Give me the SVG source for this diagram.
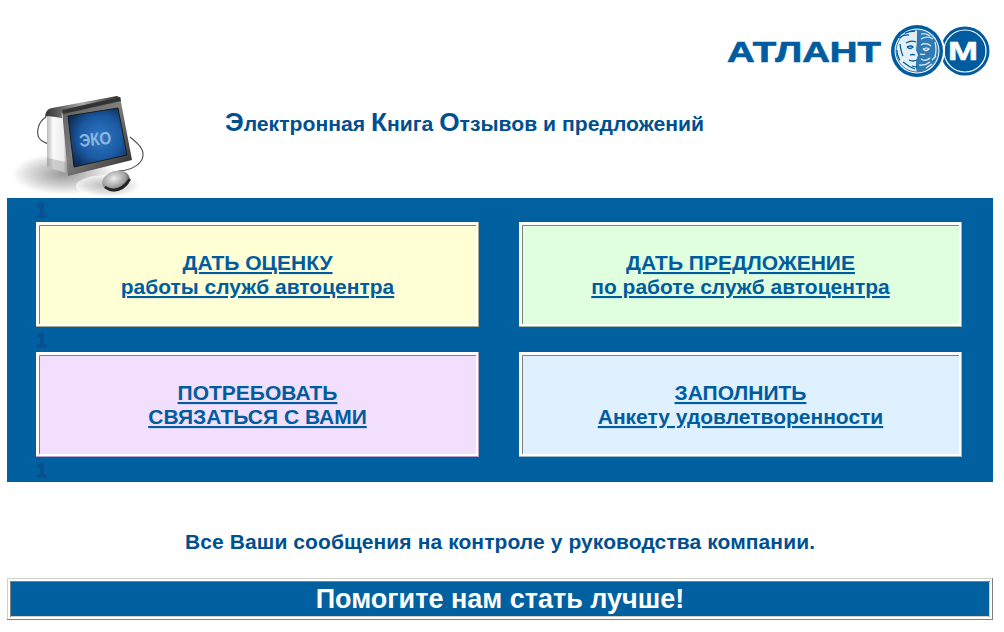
<svg xmlns="http://www.w3.org/2000/svg" width="1004" height="632" viewBox="0 0 1004 632">
<defs>
<radialGradient id="screen" cx=".55" cy=".5" r=".65"><stop offset="0" stop-color="#2f78c4"/><stop offset=".55" stop-color="#1a5aa2"/><stop offset="1" stop-color="#0a2448"/></radialGradient>
<linearGradient id="frame" x1="0" y1="0" x2="1" y2="1"><stop offset="0" stop-color="#5a5a5a"/><stop offset=".45" stop-color="#7f7f7f"/><stop offset=".8" stop-color="#4a4a4a"/><stop offset="1" stop-color="#222"/></linearGradient>
<linearGradient id="pages" x1="0" y1="0" x2="1" y2="0"><stop offset="0" stop-color="#bbb"/><stop offset=".3" stop-color="#fafafa"/><stop offset=".8" stop-color="#ececec"/><stop offset="1" stop-color="#888"/></linearGradient>
<linearGradient id="spine" x1="0" y1="0" x2="1" y2="0"><stop offset="0" stop-color="#333"/><stop offset=".5" stop-color="#aaa"/><stop offset="1" stop-color="#222"/></linearGradient>
<radialGradient id="shadow"><stop offset="0" stop-color="#9a9a9a"/><stop offset=".6" stop-color="#d4d4d4"/><stop offset="1" stop-color="#fff"/></radialGradient>
<radialGradient id="mouse" cx=".45" cy=".35" r=".7"><stop offset="0" stop-color="#eee"/><stop offset=".6" stop-color="#a0a0a0"/><stop offset="1" stop-color="#2a2a2a"/></radialGradient>
</defs>
<style>
text{font-family:"Liberation Sans",Arial,sans-serif;font-weight:bold}
.link{font-size:21px;fill:#005c9e;text-anchor:middle;text-decoration:underline}
.one{font-size:20px;fill:#0a4f90;stroke:#0a4f90;stroke-width:.8}
.inner{fill:none;stroke:#808080;stroke-width:1}
.wire{fill:none;stroke:#555;stroke-width:1.200}
</style>
<rect width="1004" height="632" fill="#fff"/>

<g id="logo">
<text x="727" y="62" font-size="30" fill="#005c9e" stroke="#005c9e" stroke-width=".7" textLength="154" lengthAdjust="spacingAndGlyphs">АТЛАНТ</text>
<circle cx="965" cy="51" r="24.500" fill="#005c9e"/>
<circle cx="965" cy="51" r="21" fill="#005c9e" stroke="#fff" stroke-width="1.200"/>
<text x="963" y="60" font-size="25" fill="#fff" stroke="#fff" stroke-width=".5" text-anchor="middle" textLength="30" lengthAdjust="spacingAndGlyphs">М</text>
<circle cx="917" cy="51" r="28" fill="#fff"/>
<circle cx="917" cy="51" r="26" fill="#005c9e"/>
<circle cx="917" cy="51" r="22.500" fill="#fff"/>
<circle cx="917" cy="51" r="21" fill="#e4eef6" stroke="#005c9e" stroke-width=".8"/>
<path d="M917 30a21 21 0 0 1 0 42c-2-6-1-12 1-17l-2-5c1-7 1-14 1-20z" fill="#2f7cb4"/>
<path d="M899 38q5-4 10-3M906 43q5-3 10-1M907 47q4-2 6 0q-3 3-6 0M900 44q1 8 3 12M903 62q6 5 12 7M909 60q4 2 8 0M910 55q3-1 5 0M897 50q0 6 3 10M905 33q5-2 10-2M912 66q3 1 5 1" fill="none" stroke="#005c9e" stroke-width="1.300"/>
<path d="M921 39q7-4 12 0M921 45q5-3 10 1M923 49q4-2 6 0q-3 3-6 0M935 42q2 8 0 14M921 59q5 3 9-1M920 54q3 1 5 0M921 34q5-1 9 2M919 65q6 1 11-3M932 60l4-4M926 68l6-4" fill="none" stroke="#eaf2f8" stroke-width="1.200"/>
</g>

<g id="book-icon">
<ellipse cx="64" cy="174" rx="52" ry="21" fill="url(#shadow)"/>
<ellipse cx="108" cy="186" rx="32" ry="11" fill="url(#shadow)" opacity=".7"/>
<path class="wire" d="M46 117C38 122 36 132 39 138C42 143 46 142 48 144"/>
<path class="wire" d="M130 137C136 142 144 148 143 156C142 164 132 169 126 170C121 171 118 171 116 172"/>
<path d="M47 116L62 112L68 173L47 167Z" fill="url(#pages)"/>
<path d="M47 158L66 162L68 173L47 167Z" fill="#8d8d8d" opacity=".4"/>
<path d="M45 118Q45 109 52 108L117 96L121 98L63 111Q61 112 62 118L48 116Q46 116 45 118Z" fill="url(#spine)"/>
<path d="M62 110L120 97L132 160L68 176Z" fill="url(#frame)"/>
<path d="M62 110L120 97L121 101L63 114Z" fill="#333"/>
<path d="M68 116L118 108L127 155L74 167Z" fill="url(#screen)" stroke="#1c1c1c" stroke-width="1"/>
<text x="80" y="147" font-size="18" fill="#8fb6de" textLength="32" lengthAdjust="spacingAndGlyphs" transform="rotate(-6 80 147)">ЭКО</text>
<ellipse cx="116" cy="181" rx="14" ry="10" fill="url(#mouse)" transform="rotate(-15 116 181)"/>
<path d="M105 187Q118 196 130 179" fill="none" stroke="#222" stroke-width="2.500"/>
</g>

<text id="title" x="225" y="131" font-size="21" fill="#004f8f" textLength="479" lengthAdjust="spacingAndGlyphs"><tspan font-size="26">Э</tspan>лектронная <tspan font-size="26">К</tspan>нига <tspan font-size="26">О</tspan>тзывов и предложений</text>

<g id="panel">
<rect x="7" y="198" width="986" height="284" fill="#0060a0"/>
<text class="one" x="36" y="217">1</text>
<text class="one" x="36" y="347">1</text>
<text class="one" x="36" y="477">1</text>
</g>

<g id="cell-rate">
<rect x="36" y="222" width="443" height="105" fill="#fff"/>
<rect x="39" y="225" width="437" height="99" fill="#ffffd5"/>
<path d="M39.500 324V225.500H476" class="inner"/>
<path d="M36 326.500H479M478.500 222V327" fill="none" stroke="#a8a88a"/>
<text class="link" x="257.500" y="270">ДАТЬ ОЦЕНКУ</text>
<text class="link" x="257.500" y="294">работы служб автоцентра</text>
</g>

<g id="cell-suggest">
<rect x="519" y="222" width="443" height="105" fill="#fff"/>
<rect x="522" y="225" width="437" height="99" fill="#e0ffdf"/>
<path d="M522.500 324V225.500H959" class="inner"/>
<path d="M519 326.500H962M961.500 222V327" fill="none" stroke="#a0b8a0"/>
<text class="link" x="740.500" y="270">ДАТЬ ПРЕДЛОЖЕНИЕ</text>
<text class="link" x="740.500" y="294">по работе служб автоцентра</text>
</g>

<g id="cell-contact">
<rect x="36" y="352" width="443" height="105" fill="#fff"/>
<rect x="39" y="355" width="437" height="99" fill="#f2dffd"/>
<path d="M39.500 454V355.500H476" class="inner"/>
<path d="M36 456.500H479M478.500 352V457" fill="none" stroke="#b8a0c8"/>
<text class="link" x="257.500" y="400">ПОТРЕБОВАТЬ</text>
<text class="link" x="257.500" y="424">СВЯЗАТЬСЯ С ВАМИ</text>
</g>

<g id="cell-survey">
<rect x="519" y="352" width="443" height="105" fill="#fff"/>
<rect x="522" y="355" width="437" height="99" fill="#dff0ff"/>
<path d="M522.500 454V355.500H959" class="inner"/>
<path d="M519 456.500H962M961.500 352V457" fill="none" stroke="#a0b8c8"/>
<text class="link" x="740.500" y="400">ЗАПОЛНИТЬ</text>
<text class="link" x="740.500" y="424">Анкету удовлетворенности</text>
</g>

<text id="note" x="500" y="549" font-size="21" fill="#004f8f" text-anchor="middle" textLength="630" lengthAdjust="spacing">Все Ваши сообщения на контроле у руководства компании.</text>

<g id="banner">
<rect x="7.500" y="578.500" width="985" height="41" fill="#fff" stroke="#d0d0c8"/>
<path d="M7 619.500H993M992.500 578V620" fill="none" stroke="#808080"/>
<rect x="10" y="581" width="980" height="36" fill="#0060a0"/>
<path d="M10.500 617V581.500H989.500" fill="none" stroke="#808080"/>
<path d="M11 616.500H989.500V582" fill="none" stroke="#d0d0c8"/>
<text x="500" y="608" font-size="27" fill="#fff" text-anchor="middle">Помогите нам стать лучше!</text>
</g>
</svg>
